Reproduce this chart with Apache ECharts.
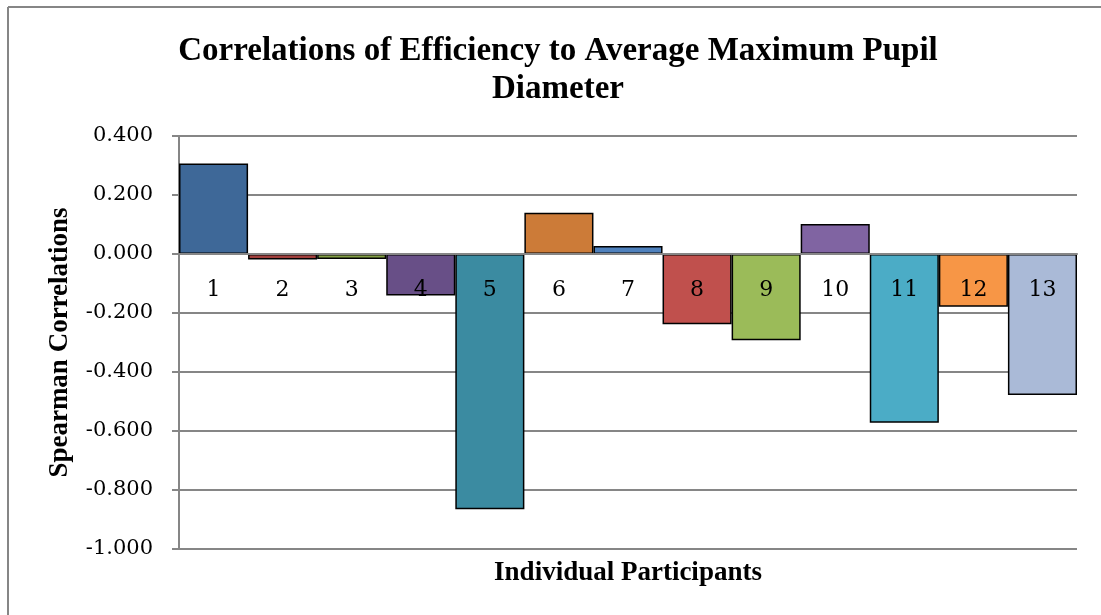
<!DOCTYPE html>
<html>
<head>
<meta charset="utf-8">
<script src="https://cdn.jsdelivr.net/npm/echarts@6/dist/echarts.min.js"></script>
<style>
html,body{margin:0;padding:0;background:#fff;}
#c{width:1101px;height:615px;}
</style>
</head>
<body>
<div id="c"></div>
<script>
const categories = ['1','2','3','4','5','6','7','8','9','10','11','12','13'];
const values = [0.307, -0.019, -0.017, -0.141, -0.865, 0.140, 0.027, -0.238, -0.292, 0.102, -0.572, -0.179, -0.478];
const barColors = ['#3E6898','#A23F3C','#84A046','#684F87','#3B8BA1','#CC7B38','#4F81BD','#C0504D','#9BBB59','#8064A2','#4BACC6','#F79646','#AABAD7'];
const yTicks = {min: -1.0, max: 0.4, interval: 0.2};
const titleText = 'Correlations of Efficiency to Average Maximum Pupil\nDiameter';
const yName = 'Spearman Correlations';
const xName = 'Individual Participants';

const gridTop = 136, gridBottom = 66, H = 615;
const plotH = H - gridTop - gridBottom;
// shift the category axis from the bottom of the grid up to the zero line
const zeroOffset = -plotH * (0 - yTicks.min) / (yTicks.max - yTicks.min);

const chart = echarts.init(document.getElementById('c'), null, {renderer: 'canvas'});
const serif = 'Liberation Serif';
chart.setOption({
  animation: false,
  backgroundColor: '#fff',
  title: {
    text: titleText,
    left: 553, top: 27, textAlign: 'center',
    textStyle: {fontFamily: serif, fontWeight: 'bold', fontSize: 33, color: '#000', lineHeight: 38}
  },
  grid: {left: 179, right: 24, top: gridTop, bottom: gridBottom},
  xAxis: {
    type: 'category',
    data: categories,
    z: 10,
    offset: zeroOffset,
    axisLine: {onZero: false, lineStyle: {color: '#868686', width: 2}},
    axisTick: {show: false},
    axisLabel: {margin: 25, fontFamily: 'DejaVu Serif', fontSize: 22, color: '#000'},
    splitLine: {show: false}
  },
  yAxis: {
    type: 'value',
    min: yTicks.min, max: yTicks.max, interval: yTicks.interval,
    name: yName,
    nameLocation: 'middle',
    nameGap: 105,
    nameTextStyle: {fontFamily: serif, fontWeight: 'bold', fontSize: 27, color: '#000'},
    axisLine: {show: true, lineStyle: {color: '#868686', width: 2}},
    axisTick: {show: true, length: 7, lineStyle: {color: '#868686', width: 2}},
    axisLabel: {margin: 26, fontFamily: 'DejaVu Serif', fontSize: 21, color: '#000',
      formatter: v => v.toFixed(3)},
    splitLine: {show: true, lineStyle: {color: '#868686', width: 2}}
  },
  graphic: [
    {type: 'line', shape: {x1: 8, y1: 7, x2: 1101, y2: 7}, style: {stroke: '#868686', lineWidth: 2}},
    {type: 'line', shape: {x1: 8, y1: 7, x2: 8, y2: 615}, style: {stroke: '#868686', lineWidth: 2}},
    {type: 'text', x: 628, y: 573,
      style: {text: xName, font: 'bold 27px "Liberation Serif"', fill: '#000', align: 'center', verticalAlign: 'middle'}}
  ],
  series: [{
    type: 'bar',
    data: values.map((v, i) => ({value: v, itemStyle: {color: barColors[i]}})),
    barCategoryGap: '0%',
    itemStyle: {borderColor: '#000', borderWidth: 1.5}
  }]
});
</script>
</body>
</html>
